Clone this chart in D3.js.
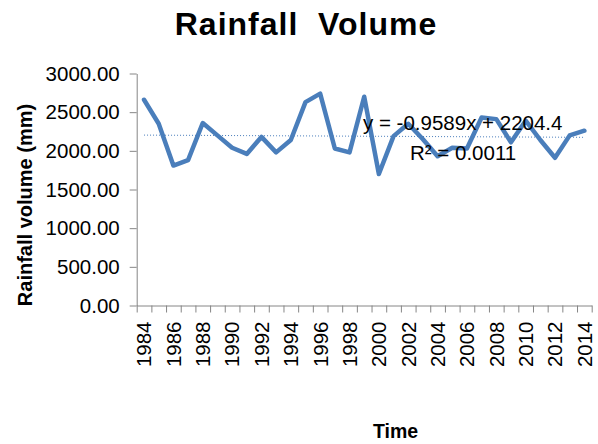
<!DOCTYPE html>
<html>
<head>
<meta charset="utf-8">
<script src="https://cdn.jsdelivr.net/npm/d3@7"></script>
<style>
  html, body { margin: 0; padding: 0; background: #fff; }
  svg { display: block; }
  text { font-family: "Liberation Sans", Arial, sans-serif; fill: #000; }
</style>
</head>
<body>
<svg id="chart" width="598" height="444"></svg>
<script>
// Annual rainfall volume (mm), 1984–2014
const years = d3.range(1984, 2015);
const rainfall = [
  2660, 2350, 1810, 1880, 2360, 2200, 2040, 1960, 2180, 1980,
  2140, 2630, 2740, 2030, 1980, 2700, 1700, 2190, 2350, 2150,
  1930, 2040, 2030, 2430, 2410, 2110, 2390, 2140, 1910, 2200,
  2260
];
const yTicks = [0, 500, 1000, 1500, 2000, 2500, 3000];
const yearLabels = years.filter(y => y % 2 === 0);

// Linear trend: y = slope * n + intercept, n = 1..31
const trendSlope = -0.9589;
const trendIntercept = 2204.4;
const trendEquation = "y = -0.9589x + 2204.4";
const trendR2 = "R² = 0.0011";

const svg = d3.select("#chart");
const plotLeft = 136.7, plotRight = 591.7, plotTop = 73.5, plotBottom = 305.5;
const axisColor = "#868686";
const lineColor = "#4a7ebb";

const x = d3.scaleBand().domain(years).range([plotLeft, plotRight]).padding(0);
const xEdge = d3.scaleLinear().domain([0, years.length]).range([plotLeft, plotRight]);
const y = d3.scaleLinear().domain([0, 3000]).range([plotBottom, plotTop]);
const cx = d => x(d) + x.bandwidth() / 2;

// Title
svg.append("text")
  .attr("x", 306).attr("y", 35)
  .attr("text-anchor", "middle")
  .style("white-space", "pre")
  .style("font-size", "32px").style("font-weight", "bold")
  .style("letter-spacing", "1px")
  .text("Rainfall  Volume");

// Y axis
const yAxis = svg.append("g")
  .attr("transform", `translate(${plotLeft},0)`)
  .call(d3.axisLeft(y).tickValues(yTicks).tickFormat(d3.format(".2f"))
    .tickSize(7).tickSizeOuter(0).tickPadding(10));
yAxis.select(".domain").attr("stroke", axisColor);
yAxis.selectAll(".tick line").attr("stroke", axisColor);
yAxis.selectAll(".tick text")
  .style("font-size", "20.5px").style("font-family", "Liberation Sans, Arial, sans-serif")
  .attr("fill", "#000");

// X axis: tick marks on category boundaries
const xAxis = svg.append("g")
  .attr("transform", `translate(0,${plotBottom})`)
  .call(d3.axisBottom(xEdge).tickValues(d3.range(years.length + 1))
    .tickFormat("").tickSize(7).tickSizeOuter(0));
xAxis.select(".domain").attr("stroke", axisColor);
xAxis.selectAll(".tick line").attr("stroke", axisColor);

// Year labels, rotated, every second year
svg.append("g").selectAll("text")
  .data(yearLabels)
  .join("text")
  .attr("transform", d => `translate(${cx(d)},${plotBottom + 16}) rotate(-90)`)
  .attr("text-anchor", "end")
  .attr("dy", "0.36em")
  .style("font-size", "20.5px")
  .text(d => d);

// Axis titles
svg.append("text")
  .attr("transform", "translate(32,205) rotate(-90)")
  .attr("text-anchor", "middle")
  .style("font-size", "20px").style("font-weight", "bold")
  .text("Rainfall volume (mm)");

svg.append("text")
  .attr("x", 395.5).attr("y", 438)
  .attr("text-anchor", "middle")
  .style("font-size", "19.5px").style("font-weight", "bold")
  .text("Time");

// Trend line (dotted)
const trend = years.map((yr, i) => [yr, trendSlope * (i + 1) + trendIntercept]);
svg.append("path")
  .datum(trend)
  .attr("fill", "none")
  .attr("stroke", lineColor)
  .attr("stroke-width", 1)
  .attr("stroke-dasharray", "1,2")
  .attr("d", d3.line().x(d => cx(d[0])).y(d => y(d[1])));

// Rainfall series
svg.append("path")
  .datum(years.map((yr, i) => [yr, rainfall[i]]))
  .attr("fill", "none")
  .attr("stroke", lineColor)
  .attr("stroke-width", 4.5)
  .attr("stroke-linejoin", "round")
  .attr("stroke-linecap", "round")
  .attr("d", d3.line().x(d => cx(d[0])).y(d => y(d[1])));

// Trend equation labels
svg.append("text")
  .attr("x", 363).attr("y", 130)
  .style("font-size", "20.5px")
  .text(trendEquation);
svg.append("text")
  .attr("x", 410).attr("y", 160)
  .style("font-size", "20.5px")
  .text(trendR2);
</script>
</body>
</html>
